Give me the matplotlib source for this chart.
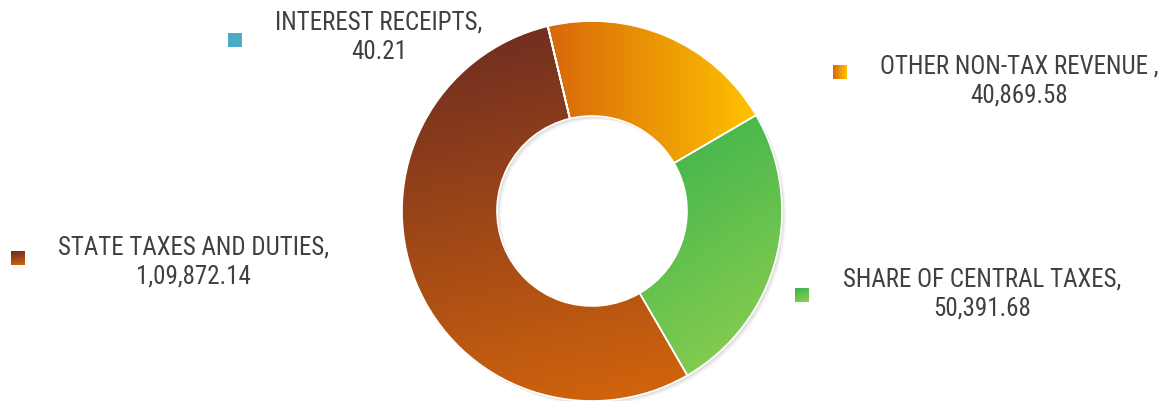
import numpy as np
import matplotlib
matplotlib.use("Agg")
import matplotlib.pyplot as plt
from matplotlib import font_manager
from matplotlib.colors import LinearSegmentedColormap
from matplotlib.patches import Wedge

# --- data ---------------------------------------------------------------------
categories = ["INTEREST RECEIPTS", "OTHER NON-TAX REVENUE ", "SHARE OF CENTRAL TAXES",
              "STATE TAXES AND DUTIES"]
values = [40.21, 40869.58, 50391.68, 109872.14]
value_labels = ["40.21", "40,869.58", "50,391.68", "1,09,872.14"]

# gradient (start, end) colours and gradient angle per slice
grad_colors = [("#4BACC6", "#4BACC6"), ("#D8680A", "#FFC200"),
               ("#38B24C", "#92D050"), ("#6A2A22", "#D4660C")]
grad_angles = [-90, 0, -70, -80]

W, H = 1166, 402
CX, CY, R = 592, H - 212, 190

names = {f.name for f in font_manager.fontManager.ttflist}
family = "Roboto"
for fam in ["Roboto Condensed", "Liberation Sans Narrow", "Roboto"]:
    if fam in names:
        family = fam
        break
fsize = 18 if family != "Roboto" else 15
plt.rcParams["font.family"] = [family, "DejaVu Sans"]

fig = plt.figure(figsize=(W / 100, H / 100), dpi=100)
ax = fig.add_axes([0, 0, 1, 1])


def gradient_fill(ax, bbox, c0, c1, angle, clip=None, zorder=2):
    (x0, y0), (x1, y1) = bbox
    n = 200
    xx, yy = np.meshgrid(np.linspace(0, 1, n), np.linspace(0, 1, n))
    a = np.deg2rad(angle)
    t = xx * np.cos(a) + yy * np.sin(a)
    t = (t - t.min()) / max(t.max() - t.min(), 1e-9)
    cmap = LinearSegmentedColormap.from_list("g", [c0, c1])
    im = ax.imshow(t, cmap=cmap, extent=(x0, x1, y0, y1), origin="lower",
                   interpolation="bilinear", zorder=zorder, vmin=0, vmax=1)
    if clip is not None:
        im.set_clip_path(clip)
    return im


# soft drop shadow under the ring
for k, al in zip([4, 3, 2], [0.06, 0.08, 0.10]):
    ax.add_patch(Wedge((CX + k, CY - k), R, 0, 360, width=R / 2,
                       facecolor="#808080", alpha=al, edgecolor="none", zorder=1))

wedges, _ = ax.pie(values, center=(CX, CY), radius=R, startangle=103.5,
                   counterclock=False, frame=True,
                   wedgeprops=dict(width=R / 2, edgecolor="white", linewidth=1.2))

for w, (c0, c1), ang in zip(wedges, grad_colors, grad_angles):
    w.set_facecolor("none")
    w.set_zorder(3)
    ext = w.get_path().get_extents(w.get_patch_transform())
    gradient_fill(ax, ext.get_points(), c0, c1, ang, clip=w, zorder=2)

# labels and legend squares (pixel positions from the reference)
label_xy = [(379, 37), (1019, 81), (982, 294), (193, 262)]
marker_xy = [(235, 41), (840, 73), (802, 296), (18, 259)]
ms = 14
for cat, vl, (lx, ly), (mx, my), (c0, c1), ang in zip(
        categories, value_labels, label_xy, marker_xy, grad_colors, grad_angles):
    ax.text(lx, H - ly, f"{cat},\n{vl}", ha="center", va="center",
            fontsize=fsize, color="#404040", linespacing=1.3, zorder=5)
    y = H - my
    gradient_fill(ax, ((mx - ms / 2, y - ms / 2), (mx + ms / 2, y + ms / 2)),
                  c0, c1, ang, zorder=5)

ax.set_xlim(0, W)
ax.set_ylim(0, H)
ax.set_aspect("equal")
ax.axis("off")
fig.savefig("out.png", dpi=100)
